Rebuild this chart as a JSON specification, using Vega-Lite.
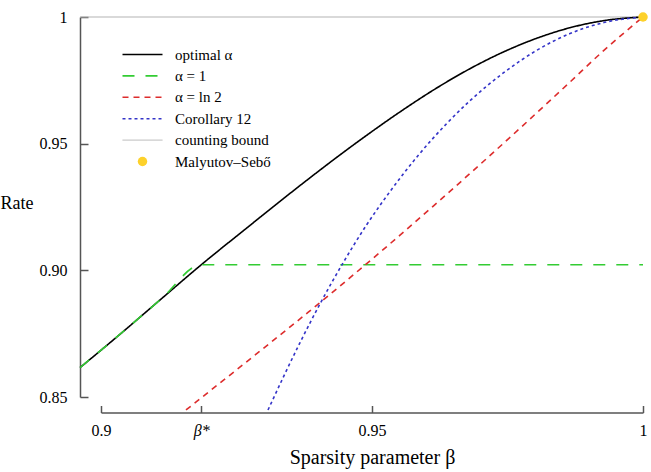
{
  "$schema": "https://vega.github.io/schema/vega-lite/v6.json",
  "width": 542,
  "height": 380,
  "autosize": {"type": "none"},
  "padding": {"left": 101, "top": 17, "right": 8, "bottom": 75},
  "config": {
    "view": {"stroke": null},
    "font": "Liberation Serif",
    "axis": {"grid": false, "labelFont": "Liberation Serif", "titleFont": "Liberation Serif", "labelColor": "#000", "titleColor": "#000", "titleFontWeight": "normal", "domainColor": "#555", "tickColor": "#555", "domainWidth": 1.5, "tickWidth": 1.5, "labelFlush": false, "labelOverlap": false},
    "legend": {"labelFont": "Liberation Serif"}
  },
  "datasets": {
    "curves": [
      {"series": "optimal α", "beta": 0.89613, "rate": 0.8616},
      {"series": "optimal α", "beta": 0.90314, "rate": 0.8741},
      {"series": "optimal α", "beta": 0.91113, "rate": 0.88875},
      {"series": "optimal α", "beta": 0.9185, "rate": 0.9022},
      {"series": "optimal α", "beta": 0.92651, "rate": 0.91606},
      {"series": "optimal α", "beta": 0.93819, "rate": 0.93592},
      {"series": "optimal α", "beta": 0.94286, "rate": 0.94358},
      {"series": "optimal α", "beta": 0.94902, "rate": 0.95331},
      {"series": "optimal α", "beta": 0.95517, "rate": 0.96254},
      {"series": "optimal α", "beta": 0.96131, "rate": 0.97114},
      {"series": "optimal α", "beta": 0.96808, "rate": 0.9796},
      {"series": "optimal α", "beta": 0.97423, "rate": 0.98618},
      {"series": "optimal α", "beta": 0.98039, "rate": 0.9916},
      {"series": "optimal α", "beta": 0.98653, "rate": 0.99577},
      {"series": "optimal α", "beta": 0.99268, "rate": 0.99854},
      {"series": "optimal α", "beta": 1.0, "rate": 1.0},
      {"series": "α = 1", "beta": 0.89613, "rate": 0.8616},
      {"series": "α = 1", "beta": 0.90314, "rate": 0.8741},
      {"series": "α = 1", "beta": 0.91113, "rate": 0.88875},
      {"series": "α = 1", "beta": 0.9185, "rate": 0.9022},
      {"series": "α = 1", "beta": 0.96, "rate": 0.9022},
      {"series": "α = 1", "beta": 1.0, "rate": 0.9022},
      {"series": "α = ln 2", "beta": 0.91568, "rate": 0.84487},
      {"series": "α = ln 2", "beta": 0.92159, "rate": 0.85492},
      {"series": "α = ln 2", "beta": 0.92651, "rate": 0.86328},
      {"series": "α = ln 2", "beta": 0.93142, "rate": 0.87168},
      {"series": "α = ln 2", "beta": 0.93819, "rate": 0.88339},
      {"series": "α = ln 2", "beta": 0.94286, "rate": 0.89161},
      {"series": "α = ln 2", "beta": 0.94902, "rate": 0.90264},
      {"series": "α = ln 2", "beta": 0.95517, "rate": 0.91389},
      {"series": "α = ln 2", "beta": 0.96131, "rate": 0.92537},
      {"series": "α = ln 2", "beta": 0.96863, "rate": 0.93928},
      {"series": "α = ln 2", "beta": 0.97423, "rate": 0.95009},
      {"series": "α = ln 2", "beta": 0.98039, "rate": 0.96216},
      {"series": "α = ln 2", "beta": 0.98653, "rate": 0.97432},
      {"series": "α = ln 2", "beta": 0.99268, "rate": 0.98662},
      {"series": "α = ln 2", "beta": 1.0, "rate": 1.0},
      {"series": "Corollary 12", "beta": 0.93081, "rate": 0.84487},
      {"series": "Corollary 12", "beta": 0.93672, "rate": 0.87147},
      {"series": "Corollary 12", "beta": 0.94041, "rate": 0.88678},
      {"series": "Corollary 12", "beta": 0.9447, "rate": 0.90308},
      {"series": "Corollary 12", "beta": 0.94902, "rate": 0.91798},
      {"series": "Corollary 12", "beta": 0.95332, "rate": 0.9311},
      {"series": "Corollary 12", "beta": 0.95825, "rate": 0.94466},
      {"series": "Corollary 12", "beta": 0.96378, "rate": 0.95793},
      {"series": "Corollary 12", "beta": 0.96808, "rate": 0.96696},
      {"series": "Corollary 12", "beta": 0.97423, "rate": 0.97791},
      {"series": "Corollary 12", "beta": 0.98039, "rate": 0.98684},
      {"series": "Corollary 12", "beta": 0.98653, "rate": 0.99347},
      {"series": "Corollary 12", "beta": 0.99268, "rate": 0.99775},
      {"series": "Corollary 12", "beta": 1.0, "rate": 1.0}
    ],
    "bound": [
      {"series": "counting bound", "beta": 0.89613, "rate": 1.0},
      {"series": "counting bound", "beta": 1.0, "rate": 1.0}
    ],
    "ms": [
      {"series": "Malyutov–Sebő", "beta": 1.0, "rate": 1.0}
    ]
  },
  "layer": [
    {
      "data": {"name": "bound"},
      "mark": {"type": "line", "color": "#b3b3b3", "strokeWidth": 1},
      "encoding": {
        "x": {"field": "beta", "type": "quantitative", "scale": {"domain": [0.9, 1], "nice": false, "zero": false}},
        "y": {"field": "rate", "type": "quantitative", "scale": {"domain": [0.85, 1], "nice": false, "zero": false}}
      }
    },
    {
      "data": {"name": "curves"},
      "mark": {"type": "line", "strokeWidth": 1.6, "interpolate": "monotone"},
      "encoding": {
        "x": {
          "field": "beta", "type": "quantitative",
          "scale": {"domain": [0.9, 1], "nice": false, "zero": false},
          "axis": {
            "title": "Sparsity parameter β",
            "offset": 15.5,
            "values": [0.9, 0.9185, 0.95, 1],
            "labelExpr": "datum.value == 0.9185 ? 'β*' : (datum.value == 1 ? '1' : format(datum.value, '.2~f'))",
            "labelFontStyle": {"expr": "datum.value == 0.9185 ? 'italic' : 'normal'"},
            "tickSize": -7,
            "labelPadding": 17,
            "labelFontSize": 16,
            "titleFontSize": 20,
            "titleBaseline": "alphabetic",
            "titleY": 50.5
          }
        },
        "y": {
          "field": "rate", "type": "quantitative",
          "scale": {"domain": [0.85, 1], "nice": false, "zero": false},
          "axis": {
            "title": "Rate",
            "offset": 21,
            "values": [0.85, 0.9, 0.95, 1],
            "labelExpr": "datum.value == 1 ? '1' : format(datum.value, '.2f')",
            "tickSize": -8,
            "labelPadding": 21,
            "labelFontSize": 16,
            "titleFontSize": 18,
            "titleAngle": 0,
            "titleAlign": "left",
            "titleBaseline": "alphabetic",
            "titleX": -80,
            "titleY": 191
          }
        },
        "color": {
          "field": "series", "type": "nominal",
          "scale": {
            "domain": ["optimal α", "α = 1", "α = ln 2", "Corollary 12", "counting bound", "Malyutov–Sebő"],
            "range": ["#000000", "#33cc33", "#dd2c2c", "#3434c8", "#b3b3b3", "#fdd12b"]
          },
          "legend": {
            "title": null,
            "orient": "none",
            "legendX": 34,
            "legendY": 30,
            "padding": 0,
            "symbolType": "M-4,0H4",
            "symbolSize": 100,
            "symbolStrokeWidth": 1.6,
            "labelFontSize": 15,
            "labelOffset": 25,
            "rowPadding": 5.4,
            "labelColor": "#000",
            "encode": {
              "symbols": {
                "update": {
                  "shape": {"signal": "datum.value === 'Malyutov–Sebő' ? 'circle' : 'M-4,0H4'"},
                  "size": {"signal": "datum.value === 'Malyutov–Sebő' ? 90 : 100"},
                  "fill": {"signal": "datum.value === 'Malyutov–Sebő' ? '#fdd12b' : 'transparent'"},
                  "strokeWidth": {"signal": "datum.value === 'Malyutov–Sebő' ? 0 : (datum.value === 'counting bound' ? 1 : 1.6)"}
                }
              }
            }
          }
        },
        "strokeDash": {
          "field": "series", "type": "nominal",
          "scale": {
            "domain": ["optimal α", "α = 1", "α = ln 2", "Corollary 12", "counting bound", "Malyutov–Sebő"],
            "range": [[1, 0], [12, 11], [6, 5], [3, 3], [1, 0], [1, 0]]
          }
        }
      }
    },
    {
      "data": {"name": "ms"},
      "mark": {"type": "circle", "size": 90, "color": "#fdd12b", "opacity": 1},
      "encoding": {
        "x": {"field": "beta", "type": "quantitative"},
        "y": {"field": "rate", "type": "quantitative"}
      }
    }
  ]
}
